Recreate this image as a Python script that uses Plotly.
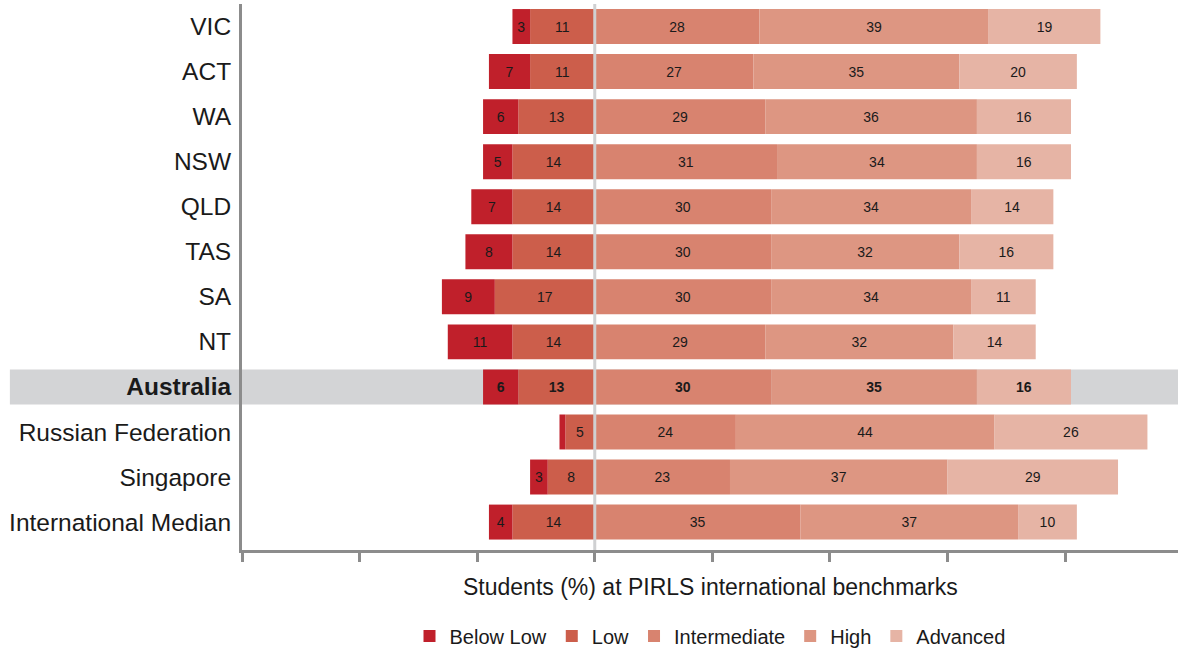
import plotly.graph_objects as go

regions = ["VIC", "ACT", "WA", "NSW", "QLD", "TAS", "SA", "NT", "Australia",
           "Russian Federation", "Singapore", "International Median"]
below_low = [3, 7, 6, 5, 7, 8, 9, 11, 6, 1, 3, 4]
low = [11, 11, 13, 14, 14, 14, 17, 14, 13, 5, 8, 14]
intermediate = [28, 27, 29, 31, 30, 30, 30, 29, 30, 24, 23, 35]
high = [39, 35, 36, 34, 34, 32, 34, 32, 35, 44, 37, 37]
advanced = [19, 20, 16, 16, 14, 16, 11, 14, 16, 26, 29, 10]
tick_vals = [-60, -40, -20, 0, 20, 40, 60, 80]
highlight = "Australia"
x_title = "Students (%) at PIRLS international benchmarks"

colors = {
    "Below Low": "#c0202b",
    "Low": "#cc5e4b",
    "Intermediate": "#d8836f",
    "High": "#dd9682",
    "Advanced": "#e6b4a5",
}

FONT = "Liberation Sans, Arial, Helvetica, sans-serif"
W, H = 1178, 649


def labels(vals, min_show=2):
    out = []
    for r, v in zip(regions, vals):
        s = str(v) if v >= min_show else ""
        if r == highlight and s:
            s = "<b>" + s + "</b>"
        out.append(s)
    return out


series = [
    # (name, values, sign, legendrank) -- negatives stacked outward from zero
    ("Low", low, -1, 2),
    ("Below Low", below_low, -1, 1),
    ("Intermediate", intermediate, 1, 3),
    ("High", high, 1, 4),
    ("Advanced", advanced, 1, 5),
]

fig = go.Figure()
for name, vals, sign, rank in series:
    fig.add_trace(go.Bar(
        name=name,
        y=regions,
        x=[sign * v for v in vals],
        orientation="h",
        marker=dict(color=colors[name], line=dict(width=0)),
        text=labels(vals),
        textposition="inside",
        insidetextanchor="middle",
        textangle=0,
        textfont=dict(size=14, color="#1a1a1a", family=FONT),
        legendrank=rank,
        hoverinfo="skip",
    ))

idx = regions.index(highlight)
fig.add_shape(type="rect", xref="paper", yref="y",
              x0=-0.248, x1=1.0, y0=idx - 0.388, y1=idx + 0.388,
              fillcolor="#d3d4d6", line=dict(width=0), layer="below")
fig.add_shape(type="line", xref="x", yref="paper", x0=0, x1=0, y0=0, y1=1,
              line=dict(color="#cfd0d2", width=3), layer="above")

ticktext = ["<b>" + r + "</b>" if r == highlight else r for r in regions]

fig.add_annotation(text=x_title, xref="paper", yref="paper", x=0.5, y=-0.068,
                   xanchor="center", yanchor="middle", showarrow=False,
                   font=dict(size=23, color="#1a1a1a", family=FONT))

fig.update_layout(
    barmode="relative",
    bargap=0.224,
    width=W, height=H,
    margin=dict(l=242, r=0, t=4, b=99, autoexpand=False),
    paper_bgcolor="white",
    plot_bgcolor="rgba(0,0,0,0)",
    font=dict(family=FONT, color="#1a1a1a"),
    xaxis=dict(range=[-60, 99.2], tickvals=tick_vals, showticklabels=False,
               ticks="outside", ticklen=9, tickwidth=3, tickcolor="#8c8c8c",
               showline=True, linecolor="#8c8c8c", linewidth=3,
               showgrid=False, zeroline=False, fixedrange=True),
    yaxis=dict(type="category", categoryorder="array", categoryarray=regions,
               range=[11.62, -0.5], tickvals=regions, ticktext=ticktext,
               tickfont=dict(size=24.5, color="#1a1a1a", family=FONT),
               showline=True, linecolor="#8c8c8c", linewidth=3,
               ticks="", ticklabelstandoff=3, automargin=False,
               showgrid=False, zeroline=False, fixedrange=True),
    legend=dict(orientation="h", x=0.5, xanchor="center", y=-0.122, yanchor="top",
                font=dict(size=20, color="#1a1a1a", family=FONT),
                traceorder="normal", itemclick=False, itemdoubleclick=False),
    showlegend=True,
)

post = (
    "document.body.style.margin='0';"
    "document.body.style.overflow='hidden';"
)

fig.write_html("out.html", config={"displayModeBar": False}, post_script=post)
